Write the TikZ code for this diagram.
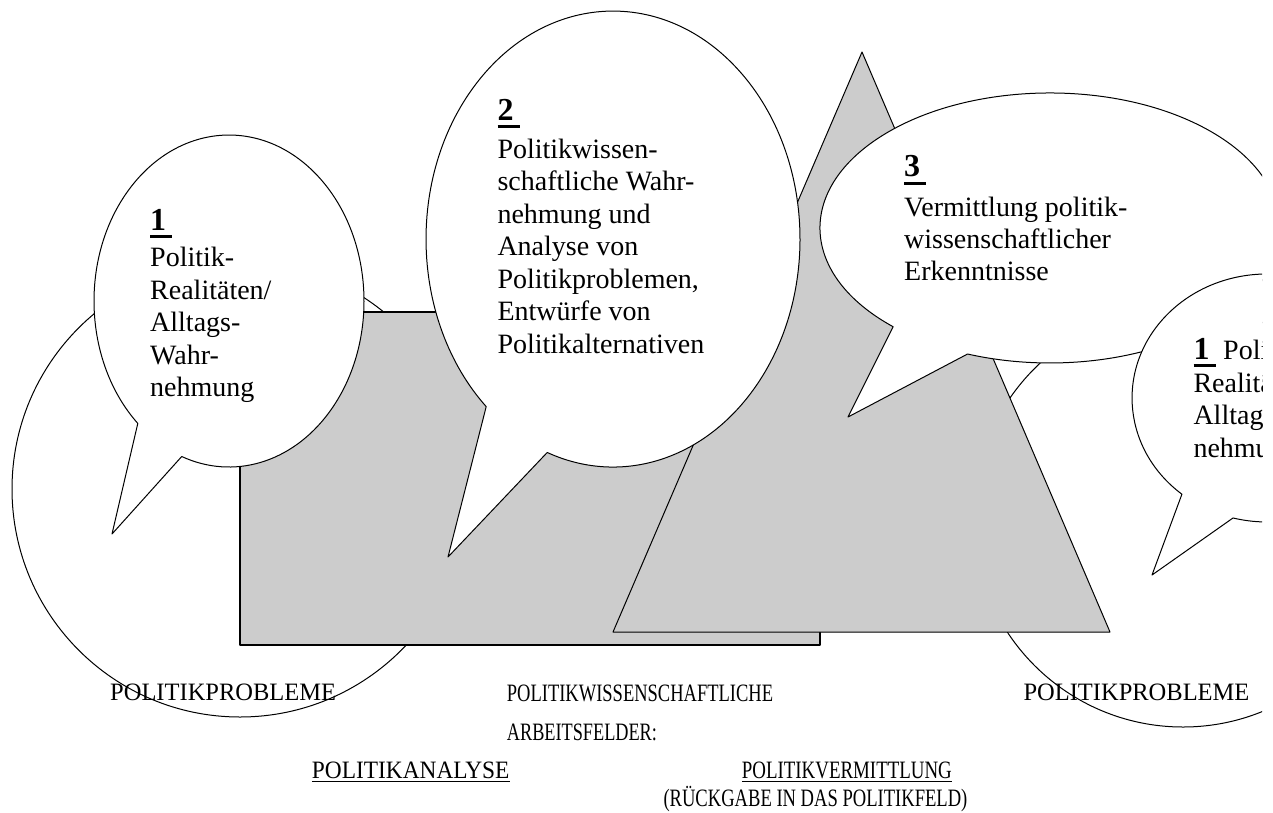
\documentclass[tikz,border=0pt]{standalone}
\usepackage{fontspec}
\setmainfont{Liberation Serif}
\usepackage{graphicx}
\definecolor{boxgray}{RGB}{204,204,204}
\newcommand\numul[1]{\makebox[22pt][l]{\rlap{\rule[-8pt]{22pt}{3pt}}\textbf{#1}}}
\newcommand\ulbl[1]{\setbox0\hbox{#1}\rlap{\rule[-4pt]{\wd0}{1.2pt}}\box0}
\begin{document}
\begin{tikzpicture}[x=1pt,y=-1pt,
  outline/.style={draw=black,line width=1pt,line join=round},
  bubble/.style={outline,fill=white},
  field/.style={draw=black,line width=1pt,line join=round,fill=boxgray},
  btext/.style={anchor=base west,inner sep=0pt,font=\fontsize{28}{32.5}\selectfont},
  btextb/.style={anchor=base west,inner sep=0pt,font=\fontsize{28}{31.7}\selectfont},
  bnum/.style={anchor=base west,inner sep=0pt,font=\fontsize{32}{36}\selectfont},
  lbl/.style={anchor=base west,inner sep=0pt,font=\fontsize{25}{30}\selectfont}]
\useasboundingbox (0,0) rectangle (1273,812);
\begin{scope}
\clip (0,0) rectangle (1262,812);
% background circles (policy problems)
\draw[outline,fill=white] (240,489) circle[radius=228];
\draw[outline,fill=white] (1183,517) circle[radius=210];
% fields of work
\draw[field,line width=1.5pt] (240,312) rectangle (820,645);
\coordinate (apex) at (862,52);
\coordinate (baseR) at (1110,632);
\coordinate (baseL) at (613,632);
\draw[field] (apex) -- (baseR) -- (baseL) -- cycle;
% bubble 2
\coordinate (tip2) at (448,557);
\draw[bubble] (486.2,406.6) arc[start angle=132.7, end angle=470.6, x radius=187, y radius=228] -- (tip2) -- cycle;
% bubble 1 (left)
\coordinate (tip1) at (112,534);
\draw[bubble] (137.8,423.4) arc[start angle=132.5, end angle=470.5, x radius=135, y radius=166] -- (tip1) -- cycle;
% bubble 3
\coordinate (tip3) at (848,417);
\draw[bubble] (893.1,326.7) arc[start angle=133, end angle=471, x radius=230, y radius=135] -- (tip3) -- cycle;
% bubble 1 (right)
\coordinate (tip4) at (1152,575);
\draw[bubble] (1181.9,494.2) arc[start angle=129.1, end angle=464.6, x radius=135, y radius=124] -- (tip4) -- cycle;
% texts of bubbles
\node[bnum] (n1) at (150,230) {\numul{1}};
\node[btext] (t1) at (150,266.7) {\begin{tabular}[t]{@{}l@{}}Politik-\\Realitäten/\\Alltags-\\Wahr-\\nehmung\end{tabular}};
\node[bnum] (n2) at (497.3,120) {\numul{2}};
\node[btext] (t2) at (497.3,158.3) {\begin{tabular}[t]{@{}l@{}}Politikwissen-\\schaftliche Wahr-\\nehmung und\\Analyse von\\Politikproblemen,\\Entwürfe von\\Politikalternativen\end{tabular}};
\node[bnum] (n3) at (904,176.7) {\numul{3}};
\node[btextb] (t3) at (904,216.7) {\begin{tabular}[t]{@{}l@{}}Vermittlung politik-\\wissenschaftlicher\\Erkenntnisse\end{tabular}};
\node[bnum] (n4) at (1193.3,359) {\numul{1}};
\node[btext] (t4a) at (1223,359) {Politik-};
\node[btext] (t4) at (1193.3,392) {\begin{tabular}[t]{@{}l@{}}Realitäten/\\Alltags-Wahr-\\nehmung\end{tabular}};
\end{scope}
% bottom labels
\node[lbl] (pp1) at (110,700) {\scalebox{0.98}[1]{POLITIKPROBLEME}};
\node[lbl] (pp2) at (1023.3,700) {\scalebox{0.98}[1]{POLITIKPROBLEME}};
\node[lbl] (pw) at (506.7,701.7) {\scalebox{0.74}[1]{POLITIKWISSENSCHAFTLICHE}};
\node[lbl] (af) at (506.7,740) {\scalebox{0.73}[1]{ARBEITSFELDER:}};
\node[lbl] (pa) at (311.7,778.3) {\ulbl{\scalebox{0.935}[1]{POLITIKANALYSE}}};
\node[lbl] (pv) at (741.7,778.3) {\ulbl{\scalebox{0.756}[1]{POLITIKVERMITTLUNG}}};
\node[lbl] (rg) at (663.3,806) {\scalebox{0.743}[1]{(RÜCKGABE IN DAS POLITIKFELD)}};
\end{tikzpicture}
\end{document}
